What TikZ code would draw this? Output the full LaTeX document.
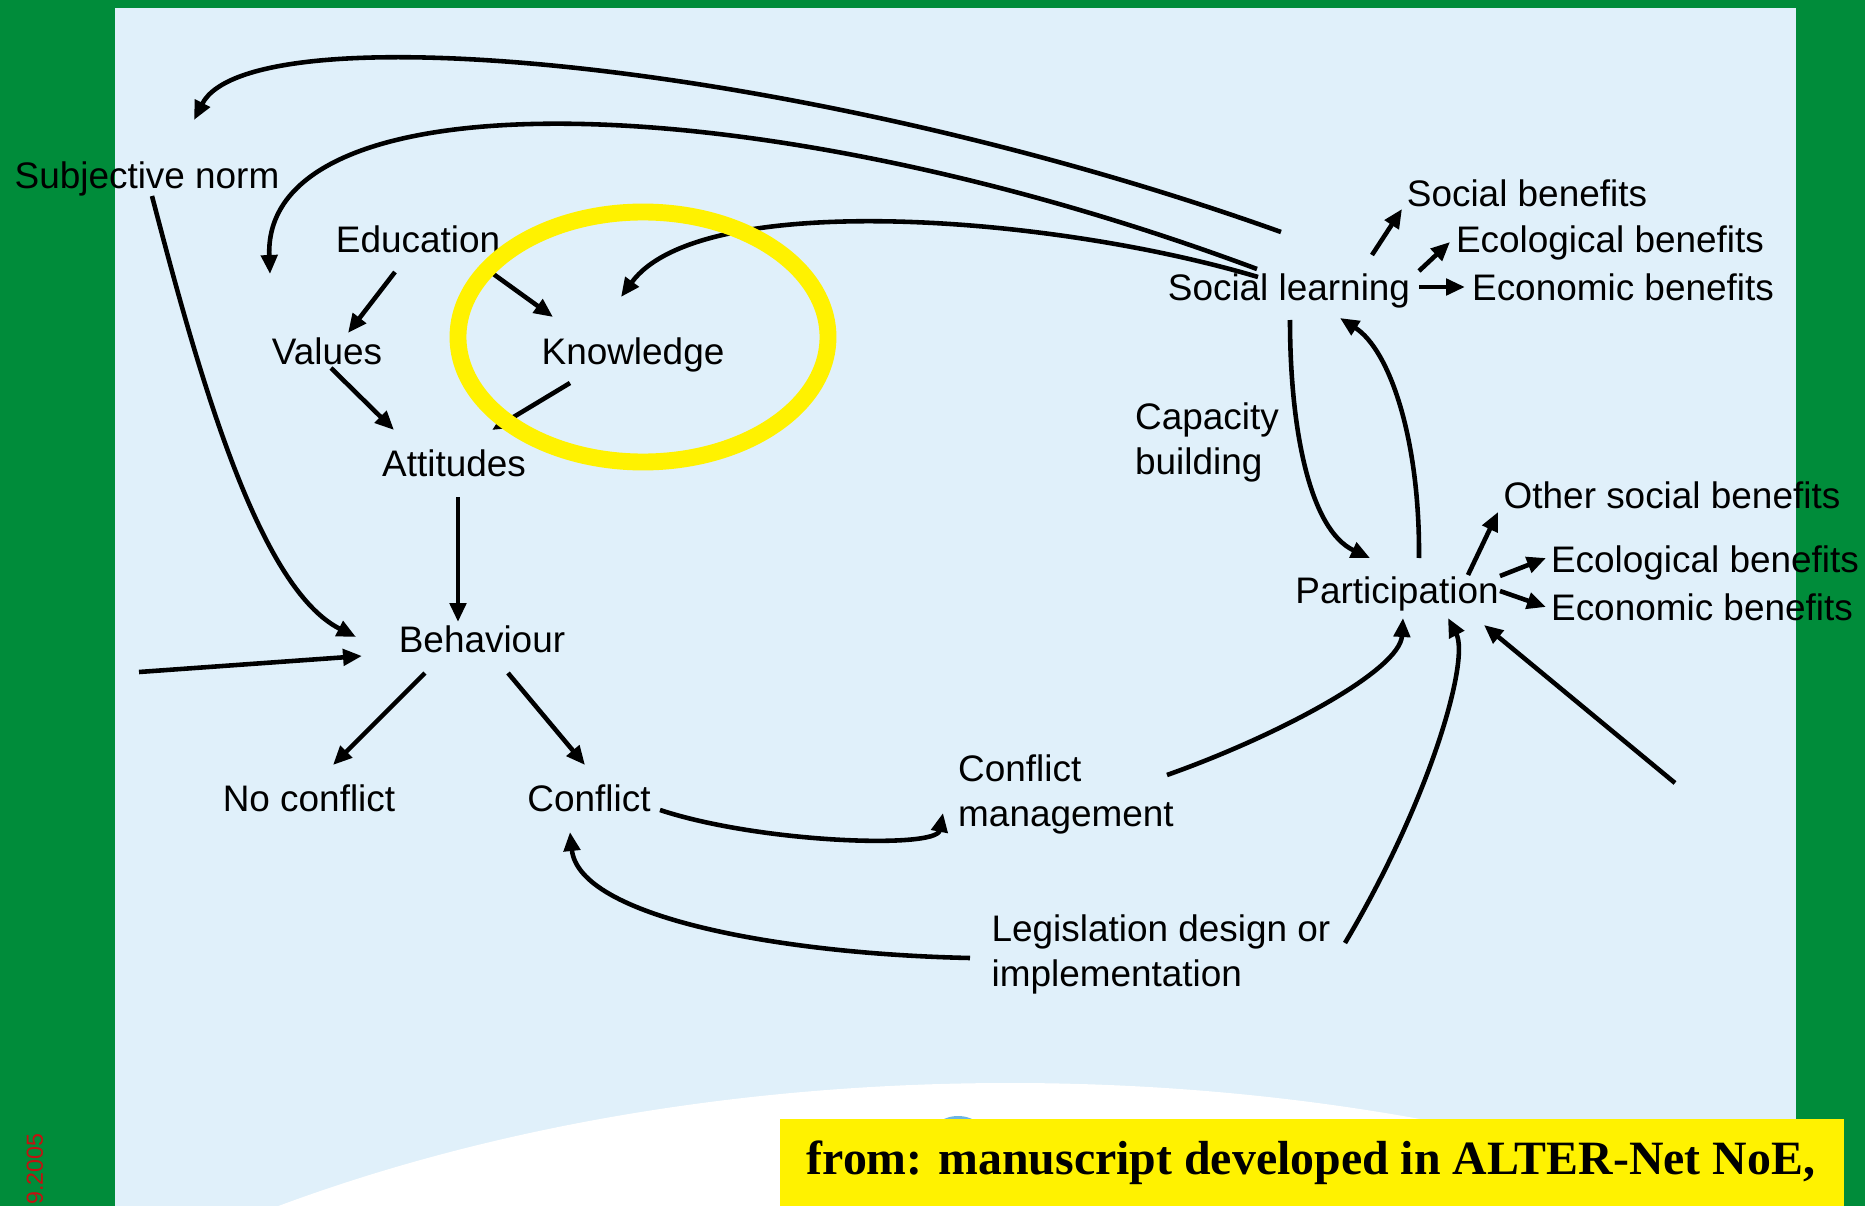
\documentclass[tikz,border=0pt]{standalone}
\usepackage{fontspec}
\setmainfont{Liberation Sans}
\newfontfamily\notefont{Liberation Serif}
\usetikzlibrary{arrows.meta}

\definecolor{slidegreen}{RGB}{0,140,58}
\definecolor{panelblue}{RGB}{224,240,250}
\definecolor{datered}{RGB}{196,16,16}
\definecolor{logoblue}{RGB}{110,180,225}

\begin{document}
\begin{tikzpicture}
[x=0.01cm,y=-0.01cm,
 every node/.style={inner sep=0pt},
 lbl/.style={font=\fontsize{10.5}{12.8}\selectfont,text height=0.75em,text depth=0.21em},
 lbl2/.style={font=\fontsize{10.5}{12.8}\selectfont,align=left},
 link/.style={line width=1.3pt,-{Triangle[length=5.4pt,width=4.6pt]}}]
\useasboundingbox (0,0) rectangle (1865,1206);
\clip (0,0) rectangle (1865,1206);
\fill[slidegreen] (0,0) rectangle (1865,1206);
\fill[panelblue] (115,8) rectangle (1796,1206);
\fill[white] (1010,1793) ellipse [x radius=1300, y radius=710];
\fill[logoblue] (958,1150) circle [radius=34];
\fill[yellow] (780,1119) rectangle (1844,1206);
\node[font=\notefont\bfseries\fontsize{13.6}{16}\selectfont,anchor=base west] (source) at (806,1174)
  {from: manuscript developed in ALTER-Net NoE,};
\node[font=\fontsize{6.6}{8}\selectfont,text=datered,rotate=90,anchor=base east] (date) at (43,1133) {.9.2005};

\node[lbl] (subj) at (147,179) {Subjective norm};
\node[lbl] (edu) at (418,243) {Education};
\node[lbl] (val) at (327,355) {Values};
\node[lbl] (know) at (633,355) {Knowledge};
\node[lbl] (att) at (454,467) {Attitudes};
\node[lbl] (beh) at (482,643) {Behaviour};
\node[lbl] (nocon) at (309,802) {No conflict};
\node[lbl] (con) at (589,802) {Conflict};
\node[lbl2] (confman) at (1066,794) {Conflict\\management};
\node[lbl2] (legis) at (1161,954) {Legislation design or\\implementation};
\node[lbl] (soclearn) at (1289,291) {Social learning};
\node[lbl] (socben) at (1527,197) {Social benefits};
\node[lbl] (ecoben) at (1610,243) {Ecological benefits};
\node[lbl] (econben) at (1623,291) {Economic benefits};
\node[lbl2] (capbuild) at (1207,442) {Capacity\\building};
\node[lbl] (partic) at (1397,594) {Participation};
\node[lbl] (othben) at (1672,499) {Other social benefits};
\node[lbl] (ecoben2) at (1705,563) {Ecological benefits};
\node[lbl] (econben2) at (1702,611) {Economic benefits};
\coordinate (leftin) at (139,672);
\coordinate (rightin) at (1675,783);

% left half
\draw[link] ([shift={(-8,-59)}]soclearn.center) .. controls +(-481,-172) and +(56,-110) .. ([shift={(47,-59)}]subj.center);
\draw[link] ([shift={(-32,-22)}]soclearn.center) .. controls +(-507,-189) and +(-8,-199) .. ([shift={(-57,-81)}]val.center);
\draw[link] ([shift={(-31,-14)}]soclearn.center) .. controls +(-208,-62) and +(79,-108) .. ([shift={(-12,-58)}]know.center);
\draw[link] ([shift={(-23,29)}]edu.center) -- ([shift={(21,-22)}]val.center);
\draw[link] ([shift={(74,30)}]edu.center) -- ([shift={(-80,-38)}]know.center);
\draw[link] ([shift={(4,13)}]val.center) -- ([shift={(-60,-37)}]att.center);
\draw[link] ([shift={(-63,28)}]know.center) -- ([shift={(38,-37)}]att.center);
\draw[link] ([shift={(4,30)}]att.center) -- ([shift={(-24,-21)}]beh.center);
\draw[link] ([shift={(5,17)}]subj.center) .. controls +(48,184) and +(-97,-49) .. ([shift={(-126,-6)}]beh.center);
\draw[link] (leftin) -- ([shift={(-120,13)}]beh.center);
\draw[link] ([shift={(-57,30)}]beh.center) -- ([shift={(24,-37)}]nocon.center);
\draw[link] ([shift={(26,30)}]beh.center) -- ([shift={(-4,-37)}]con.center);
\draw[link] ([shift={(71,8)}]con.center) .. controls +(100,33) and +(-7,36) .. ([shift={(-123,19)}]confman.center);
\draw[link] ([shift={(-191,4)}]legis.center) .. controls +(-190,-4) and +(9,85) .. ([shift={(-19,30)}]con.center);

% right half
\draw[link] ([shift={(101,-19)}]confman.center) .. controls +(113,-40) and +(-3,52) .. ([shift={(6,24)}]partic.center);
\draw[link] ([shift={(184,-11)}]legis.center) .. controls +(85,-143) and +(22,42) .. ([shift={(51,24)}]partic.center);
\draw[link] (rightin) -- ([shift={(87,31)}]partic.center);
\draw[link] ([shift={(1,29)}]soclearn.center) .. controls +(0,110) and +(-60,-28) .. ([shift={(-27,-36)}]partic.center);
\draw[link] ([shift={(22,-36)}]partic.center) .. controls +(1,-118) and +(50,32) .. ([shift={(51,27)}]soclearn.center);
\draw[link] ([shift={(83,-36)}]soclearn.center) -- ([shift={(-125,12)}]socben.center);
\draw[link] ([shift={(130,-20)}]soclearn.center) -- ([shift={(-160,-1)}]ecoben.center);
\draw[link] ([shift={(130,-4)}]soclearn.center) -- ([shift={(-158,-4)}]econben.center);
\draw[link] ([shift={(71,-19)}]partic.center) -- ([shift={(-174,13)}]othben.center);
\draw[link] ([shift={(103,-18)}]partic.center) -- ([shift={(-159,-5)}]ecoben2.center);
\draw[link] ([shift={(103,-3)}]partic.center) -- ([shift={(-156,-4)}]econben2.center);

\draw[yellow,line width=4.8pt] (643,337) ellipse [x radius=185, y radius=125];
\end{tikzpicture}
\end{document}
